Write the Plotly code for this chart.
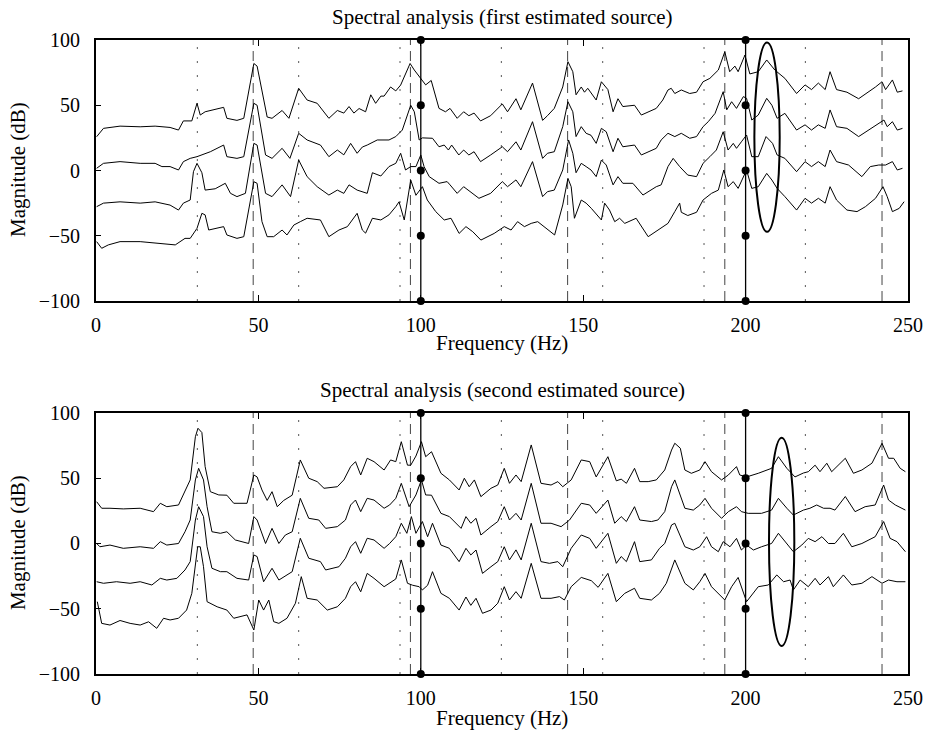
import plotly.graph_objects as go

# ---------------- data ----------------
# Top panel: spectra of the first estimated source (4 traces)
top1_f = [0.2, 2.3, 7.4, 13.6, 18.2, 22.8, 25.4, 26.9, 29.5, 31.1, 32.1, 33.6, 39.3, 40.3, 43.4, 45.5, 48.6, 49.6, 52.7, 54.2, 57.3, 59.4, 62.4, 65, 68.1, 71.7, 74.3, 76.3, 77.9, 79.4, 81, 83, 84.6, 86.1, 87.7, 88.7, 90.7, 92.3, 93.8, 96.7, 98, 100, 101.5, 103.2, 105.6, 107.6, 109, 111.2, 113.2, 114.8, 116.4, 118.4, 121.5, 125.1, 126.7, 129.3, 130.8, 134.4, 137.5, 139, 141.1, 143.7, 145.3, 146.8, 147.8, 149.4, 150.4, 151.4, 154, 155.6, 157.6, 159.2, 160.7, 162.2, 165.8, 167.9, 172.5, 174.5, 176.1, 177.1, 178.2, 180.2, 182.8, 184.9, 186.9, 189, 191.6, 193.6, 195.1, 196.7, 197.7, 199.8, 201.3, 203.9, 206.5, 209, 212.1, 215.7, 218.3, 220.3, 222.4, 224.5, 226, 228, 231.2, 234.8, 237.9, 240, 242, 243.1, 245.2, 246.7, 248.3]
top1_db = [25.9, 32.3, 34, 33.5, 34, 33, 31, 38, 38, 51.5, 42.5, 45, 48.4, 40, 38.4, 40, 82, 80, 41, 40, 46, 40, 63, 54, 51.5, 40, 46, 44, 49, 44, 47.5, 45, 58, 51.5, 57, 57, 64, 61, 65.5, 82, 77, 70, 65.6, 69, 47.6, 45, 47.6, 40, 45, 42, 44, 38, 42, 51, 45, 55, 46.5, 67, 38.4, 42, 47.6, 64, 83.4, 75.7, 58, 64, 60, 63, 54, 68, 62, 45, 55, 49, 50, 42.5, 47.6, 54, 61.7, 63, 59, 61.7, 59, 60, 68, 70.6, 77, 91, 75.7, 80, 75.7, 88.5, 74, 75.7, 84.7, 77, 70.6, 59, 65.6, 62, 67, 62, 75.7, 62, 60, 55, 60, 64, 68, 62, 69.4, 60, 61]

top2_f = [0.2, 2.3, 7.4, 13.6, 18.2, 20.3, 22.8, 25.4, 26.9, 29, 31.1, 35.2, 39.3, 40.3, 43.4, 45.5, 48.6, 49.6, 52.2, 54.2, 57.3, 59.7, 62.4, 65, 69.1, 71.7, 74.3, 76.3, 78.4, 80.4, 82, 83.5, 86.6, 90.2, 92.3, 94.3, 96.9, 98, 99.5, 100.5, 103.6, 105.6, 107.2, 108.5, 109.5, 111.7, 113.2, 114.8, 116.4, 118.4, 121.5, 125.1, 126.7, 129.3, 130.8, 134.4, 137.5, 139, 141.1, 143.7, 145.3, 146.8, 147.8, 149.4, 150.9, 152.4, 154, 155.6, 157.1, 159.2, 160.7, 162.2, 165.8, 167.9, 172.5, 174, 176.1, 178.2, 180.2, 182.8, 184.9, 186.9, 188.5, 190.6, 193.1, 194.2, 195.7, 197.2, 199.3, 200.3, 201.9, 203.9, 206.5, 208.1, 209.7, 212.1, 215.7, 218.3, 220.3, 222.4, 224.5, 226, 228, 231.2, 234.8, 237.9, 240.6, 242.6, 243.6, 245.2, 246.7, 248.3]
top2_db = [1.7, 5.5, 6.8, 5.5, 5.5, 3, 3, 0.4, 6.8, 9.3, 10.6, 14.4, 19.5, 10.6, 9.3, 10.6, 51.5, 50, 11.9, 9.3, 17, 9.3, 28.5, 23.4, 19.5, 10.6, 15.7, 12, 20.8, 13.2, 18, 19.5, 23.4, 23.4, 26, 31, 50, 45, 23.4, 25, 24.7, 18.2, 19.5, 15.7, 19.5, 11.9, 15.7, 11.9, 14.4, 6.8, 11.9, 18.2, 14.4, 22, 15.7, 37.4, 9.3, 13.2, 14.4, 33.6, 52.7, 45, 26, 33.6, 28.5, 27, 20.8, 32.3, 29.7, 14.4, 24.7, 18.2, 19.5, 11.9, 17, 23.4, 28.5, 26, 28.5, 24.7, 26, 33.6, 37.4, 43.8, 60.4, 46.5, 52.7, 47.6, 56.6, 55.3, 38.7, 42.5, 55.3, 50, 40, 43.8, 31, 35, 31, 35, 32.3, 46.4, 33.6, 32.3, 26, 31, 35, 38.7, 33.6, 37.4, 31, 32.3]

top3_f = [0.2, 2.3, 7.4, 13.6, 18.2, 22.8, 25.4, 26.9, 29, 30, 31.1, 32.6, 33.6, 36.7, 39.8, 41.4, 43.4, 46, 48.6, 49.6, 52.2, 54.2, 57.3, 59.9, 62.4, 65, 68.1, 71.7, 74.3, 76.3, 77.9, 80.4, 83.5, 85.1, 87.7, 90.2, 92.3, 93.8, 95.3, 96.9, 98.5, 100, 101, 102.6, 105.6, 108.1, 109, 111.2, 113.2, 115.3, 117.9, 121.5, 125.1, 126.7, 129.3, 130.8, 134.4, 137.5, 139, 141.1, 143.7, 145.5, 146.8, 147.8, 149.4, 150.9, 152.4, 154, 155.6, 157.1, 159.2, 160.7, 162.2, 165.3, 168.4, 172.5, 174, 176.1, 177.7, 179.7, 182.2, 184.9, 186.9, 189, 191, 193.1, 194.6, 196.2, 197.2, 198.7, 200.3, 201.9, 203.9, 206.3, 208.3, 209.7, 212.1, 215.7, 218.3, 220.3, 222.4, 224.5, 226, 228, 231.7, 235.8, 238.4, 241, 243.1, 245.2, 246.7, 248.3]
top3_db = [-27.7, -25, -24, -25, -24, -26.5, -30.3, -25, -22.6, -0.9, 5.5, -1.7, -15, -14, -9.8, -17.5, -20, -17.5, 20.8, 19.5, -17.5, -20, -11, -20, 8, -4.7, -12.4, -18.8, -15, -17.5, -11, -15, -17.5, -1.7, -4.2, 3, 5.5, 13.2, 0.4, 3, 3, 11.9, 3, -4.7, -9.8, -8.5, -11, -17.5, -12.4, -16.2, -21.3, -17.5, -8.5, -12.4, -7.2, -12.4, 6.8, -20, -16.2, -15, 0.4, 23.4, 13.2, -1.7, 5.5, 3, 0.4, -4.7, 8, 4.2, -11, -4.7, -9.8, -9.8, -18.8, -12.4, -11, 3, 9.3, 3, -3.5, -4.7, 5.5, 10.6, 15.7, 29.7, 15.7, 20.8, 17, 22, 27.2, 10.6, 10.6, 26, 20.8, 11.9, 9.3, -0.9, 6.8, 3, 6.8, 3, 15.7, 6.8, 4.2, -4.7, 3, 4.2, 4.2, 6.8, 0.4, 1.7]

top4_f = [0.2, 1.75, 3.8, 7.4, 13.6, 18.7, 24.4, 27.4, 29, 31.1, 32.6, 33.6, 34.7, 39.3, 40.3, 43.4, 45.5, 48.6, 49.6, 51.1, 52.7, 54.7, 57.3, 58.8, 60.9, 62.9, 65, 69.1, 71.7, 74.8, 77.4, 80.4, 82, 83, 85.1, 87.7, 90.2, 92.3, 93.3, 94.9, 96.9, 98.5, 100.5, 102, 104.6, 107.2, 109.3, 111.8, 113.9, 116, 118.5, 122.6, 125.7, 127.8, 129.8, 131.9, 134, 136, 139.1, 141.2, 143.7, 145.3, 146.3, 147.3, 149.4, 150.9, 152.5, 155.6, 156.6, 158.1, 159.7, 161.2, 162.8, 166.3, 170, 173, 176.1, 178.2, 179.7, 180.2, 182.2, 184.9, 186.9, 189.5, 191.6, 193.3, 194.6, 196.2, 197.7, 200.3, 201.9, 203.9, 206.5, 208.1, 209.7, 212.1, 215.7, 218.3, 220.3, 222.4, 224.5, 226, 228, 231.2, 234.3, 236.9, 240, 242.3, 243.6, 245.2, 247.3, 248.8]
top4_db = [-54.5, -59.6, -57, -54.5, -54.5, -55.8, -57, -52, -52, -44.3, -32.8, -34, -45.6, -43, -49.4, -52, -50.7, -8.6, -9.8, -39.2, -50.7, -50.7, -45.6, -49.4, -41.8, -39.2, -36.6, -37.9, -50.7, -45.6, -43, -32.8, -45.6, -48, -36.6, -37.9, -34, -27.7, -24, -37.9, -7.3, -19, -12.4, -22.6, -31.5, -37.9, -36.6, -48.2, -43, -46.9, -53.3, -48.2, -43, -45.6, -39.2, -43, -40.5, -39.2, -45.6, -49.4, -26.4, -6, -12.4, -36.6, -22.6, -25, -29, -37.9, -25, -30.3, -39.2, -36.6, -40.5, -36.6, -50.7, -45.6, -40.5, -31.5, -25, -32, -34.5, -32, -22.6, -17.5, -15, 0.4, -12.4, -8.5, -13.7, 0.4, -13.7, -12.4, -2.2, -7.3, -13.7, -20, -30.3, -21.3, -25, -21.3, -25, -12.4, -22.6, -30.3, -31.5, -27.7, -21.3, -12.4, -20, -31.5, -29, -23.9]

# Bottom panel: spectra of the second estimated source (4 traces)
bot1_f = [0.2, 1.75, 4.3, 8.4, 13.6, 17.7, 19.8, 21.8, 25.4, 26.9, 29, 30.6, 31.4, 32.6, 33.6, 35.2, 37.8, 40.3, 42.4, 46.5, 48.6, 49.6, 51.1, 52.7, 54.2, 55.8, 57.8, 60.4, 62.9, 65.5, 68.1, 70.2, 74.3, 76.3, 78.4, 79.9, 81.5, 83.5, 85.6, 88.7, 90.7, 92.3, 94, 95.9, 96.9, 98.5, 100.2, 101.5, 103.3, 106.2, 108.8, 111.8, 113.4, 114.9, 116.5, 118.5, 121.6, 123.7, 125.7, 127.3, 129.3, 130.9, 134, 137, 140.1, 142.2, 143.7, 146.3, 149.4, 152, 154, 157.6, 160.2, 161.7, 163.3, 165.8, 167.4, 170, 172.5, 175.1, 177.2, 178.2, 179.9, 181.3, 183.3, 185.9, 187.5, 189.5, 192.6, 194.7, 197.2, 198.2, 200.3, 203.9, 208, 210.1, 212.7, 215.2, 217.8, 219.3, 221.4, 222.9, 225, 226.5, 230.7, 233.2, 235.8, 238.9, 242, 244, 245.6, 247.6, 249.2]
bot1_db = [32, 27, 27, 26.5, 27, 24.4, 30.8, 28.2, 29.5, 37.2, 48.7, 81.8, 88.3, 85, 58.9, 39.7, 37.2, 37, 30.8, 30.8, 52.5, 51, 41, 33, 39.7, 28.2, 33, 37, 64, 50, 47.4, 42.3, 43.5, 48.7, 58.9, 62.7, 52.5, 65.3, 62.7, 56.3, 64, 62.7, 78, 60, 60, 67, 78, 66.5, 70.3, 53.8, 48.7, 41, 50, 43.5, 48.7, 35.9, 42.3, 44.8, 57.6, 46.1, 52.5, 47.4, 75.5, 46.1, 44.8, 47.4, 43.5, 48.7, 64, 62.7, 51, 66.5, 48, 49.3, 46.1, 57.6, 47.4, 47.4, 48.7, 56.3, 71.6, 76.8, 73, 56.3, 53.8, 56.3, 62.7, 55, 48.7, 52.5, 58.9, 52.5, 51, 53.8, 57.6, 66.5, 57.6, 51, 54, 55, 60, 55, 61.5, 55, 65.3, 53.8, 56.3, 61.5, 76.8, 65.3, 65.3, 57.6, 55]

bot2_f = [0.2, 1.2, 4.3, 8.4, 13.6, 17.7, 19.8, 21.8, 25.4, 27.4, 29, 30.6, 31.6, 33.1, 34.2, 35.7, 38.3, 40.3, 42.9, 47, 48.6, 49.6, 52.2, 54.2, 56.3, 58.3, 60.4, 62.9, 65.5, 68.6, 70.7, 74.3, 76.8, 78.4, 79.9, 81.5, 83.5, 85.6, 88.7, 90.4, 92.3, 94, 96.4, 98.5, 100.2, 101.5, 103.3, 106.2, 108.8, 112.4, 113.9, 115.4, 117, 118.5, 121.6, 123.7, 125.7, 127.3, 129.3, 130.9, 134, 137, 140.1, 143.2, 145.8, 149.4, 152, 154, 157.6, 159.7, 161.7, 163.3, 165.8, 167.4, 171, 173, 175.1, 177.2, 178.2, 181.3, 183.9, 185.9, 187.5, 189.5, 192.6, 194.7, 197.2, 198.7, 200.8, 204.9, 208, 210.1, 212.7, 214.7, 217.8, 219.8, 221.9, 224, 226, 227.5, 230.7, 233.7, 236.8, 239.9, 242.5, 244, 246.1, 249.2]
bot2_db = [0, -2.5, -1.2, -3.7, -2.5, -3.7, 1.4, -1.2, 0, 9, 18, 48.7, 57.6, 48.7, 28.2, 9, 7.8, 9, 2.7, 0, 20.6, 18, 0, 11.6, 0, 6.5, 9, 34.6, 19.3, 18, 11.6, 12.9, 18, 29.5, 33.3, 24.4, 34.6, 33.3, 27, 29.5, 34.6, 46.1, 28.2, 37.2, 48.7, 37.2, 37, 23.1, 20.6, 11.6, 20.6, 15.5, 19.3, 6.5, 12.9, 16.8, 28.2, 18, 23.1, 18, 46.1, 15.5, 15.5, 12.9, 18, 30.8, 29.5, 23.1, 33.3, 15.5, 20.6, 16.8, 28.2, 18, 16.8, 18, 24.4, 43.5, 48.7, 27, 25.6, 29.5, 34.6, 27, 19.3, 24.4, 28.2, 24.4, 23.1, 23.1, 25.6, 34.6, 27, 21.8, 25.6, 27, 29.5, 27, 27, 25.6, 36, 24.4, 28.2, 29.5, 44.8, 33.3, 29.5, 25.6]

bot3_f = [0.2, 2.3, 6.3, 10.5, 13.6, 17.2, 19.8, 21.8, 24.9, 27.4, 29, 30.6, 31.6, 33.1, 34.2, 35.7, 38.3, 40.3, 43.4, 47, 48.6, 49.6, 51.6, 54.2, 56.3, 58.8, 60.4, 62.9, 65.5, 69.1, 70.7, 74.8, 76.8, 78.4, 79.9, 81.5, 83.5, 85.6, 88.7, 90.4, 92.3, 94, 95.7, 97.1, 98.5, 100.5, 102.1, 103.6, 106.2, 108.8, 111.8, 113.9, 115.4, 117, 119, 121.6, 123.7, 125.7, 127.3, 129.3, 130.9, 134, 137, 139.6, 142.2, 143.7, 146.3, 149.4, 152, 154, 157.6, 160.2, 161.7, 163.3, 165.8, 167.4, 171, 173.5, 175.1, 177.2, 178.2, 181.3, 183.9, 185.9, 188, 189.5, 191.6, 193.1, 195.2, 197.2, 198.7, 200.3, 202.4, 204.9, 208, 210.1, 212.7, 214.7, 217.3, 219.3, 221.4, 223.5, 225.5, 227.5, 230.1, 232.7, 235.8, 239.9, 242.5, 244.5, 246.6, 249.2]
bot3_db = [-29.3, -30.5, -29.3, -30.5, -29.3, -31.8, -26.7, -28, -26.7, -20.3, -13.9, 18, 28.2, 20.6, -2.5, -19, -21.6, -21.6, -26.7, -28, -8.8, -10, -29.3, -19, -28, -24.1, -21.6, 4, -11.3, -13.9, -20.3, -17.8, -11.3, -2.5, 1.4, -7.5, 4, 2.7, -3.7, 0, 5.2, 15.5, 7.8, 20.6, 7.8, 16.8, 5.2, 15.5, -1.2, -3.7, -13.9, -3.7, -8.8, -5, -22.9, -17.8, -13.9, -2.5, -12.6, -4.9, -12.6, 15.5, -13.9, -15.2, -13.9, -17.8, -3.7, 6.5, 3.9, -3.7, 7.8, -15.2, -10, -13.9, 1.4, -13.9, -12.6, -3.7, 0, 14.2, 15.5, -2.5, -5, -2.5, 5.2, -2.5, -6.3, 1.4, -2.5, 3.9, -5, -1.2, -5, -2.5, 0, 7.8, 0, -6.3, -1.2, 3.9, 1.4, 5.2, 0, 0, 7.8, -2.5, 0, 5.2, 16.8, 3.9, 1.4, -6.3]

bot4_f = [0.4, 1.75, 4.3, 7.4, 10.5, 13.6, 16.2, 18.7, 20.8, 22.8, 25.4, 27.9, 29.5, 31.3, 32.1, 33.1, 34.2, 37.3, 40.3, 42.4, 46.5, 48.6, 50.1, 51.6, 53.2, 54.7, 56.3, 58.8, 61.4, 63.2, 65, 68.1, 71.2, 74.3, 76.8, 78.4, 79.9, 81.5, 83.5, 85.6, 88.7, 90.4, 92.3, 94, 95.9, 97.5, 99.5, 100.5, 102.1, 103.6, 106.2, 108.8, 111.8, 113.9, 115.4, 117, 119, 121.6, 123.7, 125.7, 127.3, 129.3, 130.9, 134, 137, 140.1, 142.7, 144.2, 146.3, 149.4, 152.5, 154.6, 157.6, 160.2, 162.8, 165.8, 167.4, 171, 173.5, 175.6, 178.2, 181.3, 183.9, 185.9, 187.5, 189.5, 193.6, 195.7, 197.7, 200.3, 203.9, 207, 209.6, 211.7, 213.7, 214.7, 216.8, 219.3, 221.4, 222.9, 225.5, 227, 230.1, 232.7, 235.8, 238.9, 242, 244, 246.6, 249.2]
bot4_db = [-44.6, -61.2, -62.5, -59, -61.2, -62.5, -60, -65, -57.3, -58.6, -57.3, -51, -38.2, -2.5, -2.5, -17.8, -44.6, -48.5, -51, -57.3, -54.7, -66.3, -43.3, -51, -43.3, -59.9, -61.2, -57.3, -45.8, -25.4, -42, -43.3, -51, -48.5, -42, -33.1, -29.3, -37, -22.9, -26.7, -33.1, -30.5, -27.2, -12.6, -30.5, -32, -33.1, -35.6, -32, -21.6, -38.2, -42, -51, -41, -47.4, -42, -53.5, -51, -45.8, -33.1, -43.3, -36.9, -42, -15.2, -42, -42, -40.7, -43.3, -33.1, -26, -28.5, -33.6, -22.9, -44.6, -38.2, -34.3, -42, -43.3, -38.2, -30.5, -12.6, -30.5, -35.6, -29.3, -22.9, -33.1, -43.3, -33.1, -26, -44.6, -33.1, -31.8, -24.1, -29.3, -28, -35.6, -28, -33.1, -26.7, -31.8, -25.4, -33.1, -24.1, -31.8, -30.5, -25.4, -30.5, -28, -29.3, -29.3]

# reference frequencies (vertical guide lines)
dotted_freqs = [31.2, 62.4, 93.6, 124.8, 156.0, 187.2, 218.4]
dashed_freqs = [48.4, 96.8, 145.2, 193.6, 242.0]
solid_freqs = [100, 200]
dot_levels = [100, 50, 0, -50, -100]

# highlighted regions (ellipses): centre freq, half width (Hz), centre dB, half height (dB)
ellipse_top = [206.6, 3.9, 25.5, 72.5]
ellipse_bot = [211.1, 3.9, 1.3, 79.8]

titles = ["Spectral analysis (first estimated source)",
          "Spectral analysis (second estimated source)"]
x_title = "Frequency (Hz)"
y_title = "Magnitude (dB)"
x_ticks = [0, 50, 100, 150, 200, 250]
y_ticks = [-100, -50, 0, 50, 100]

# ---------------- figure ----------------
FONT = "Liberation Serif, Times New Roman, serif"
fig = go.Figure()

panels = [
    ("x", "y", [(top1_f, top1_db), (top2_f, top2_db), (top3_f, top3_db), (top4_f, top4_db)], ellipse_top),
    ("x2", "y2", [(bot1_f, bot1_db), (bot2_f, bot2_db), (bot3_f, bot3_db), (bot4_f, bot4_db)], ellipse_bot),
]

shapes = []
for xa, ya, traces, ell in panels:
    xref, yref = xa, ya
    for f in dotted_freqs:
        shapes.append(dict(type="line", xref=xref, yref=yref, x0=f, x1=f, y0=-100, y1=100,
                           line=dict(color="#555", width=1, dash="2px,12px"), layer="below"))
    for f in dashed_freqs:
        shapes.append(dict(type="line", xref=xref, yref=yref, x0=f, x1=f, y0=-100, y1=100,
                           line=dict(color="#444", width=1, dash="10px,6px"), layer="below"))
    for f in solid_freqs:
        shapes.append(dict(type="line", xref=xref, yref=yref, x0=f, x1=f, y0=-100, y1=100,
                           line=dict(color="black", width=1.3), layer="below"))
    for fx, fy in traces:
        fig.add_trace(go.Scatter(x=fx, y=fy, mode="lines", xaxis=xa, yaxis=ya,
                                 line=dict(color="black", width=1), showlegend=False,
                                 hoverinfo="skip"))
    mx, my = [], []
    for f in solid_freqs:
        for lv in dot_levels:
            mx.append(f)
            my.append(lv)
    fig.add_trace(go.Scatter(x=mx, y=my, mode="markers", xaxis=xa, yaxis=ya,
                             marker=dict(color="black", size=8), cliponaxis=False,
                             showlegend=False, hoverinfo="skip"))
    fc, hw, c, hh = ell
    shapes.append(dict(type="circle", xref=xref, yref=yref, x0=fc - hw, x1=fc + hw,
                       y0=c - hh, y1=c + hh, line=dict(color="black", width=2)))

axis_common = dict(range=[0, 250], tickvals=x_ticks, ticks="inside", ticklen=6,
                   showline=True, linewidth=2, linecolor="black", mirror="ticks",
                   showgrid=False, zeroline=False, tickcolor="black", automargin=False,
                   tickfont=dict(family=FONT, size=20, color="black"),
                   ticklabelstandoff=5)
yaxis_common = dict(range=[-100, 100], tickvals=y_ticks, ticks="inside", ticklen=5,
                    showline=True, linewidth=2, linecolor="black", mirror=True,
                    showgrid=False, zeroline=False, tickcolor="black", automargin=False,
                    tickfont=dict(family=FONT, size=20, color="black"),
                    ticklabelstandoff=10)

top_dom = [0.5883, 1.0]
bot_dom = [0.0, 0.4117]

fig.update_layout(
    width=930, height=737,
    margin=dict(l=96, r=22, t=40, b=63),
    paper_bgcolor="white", plot_bgcolor="white",
    xaxis=dict(axis_common, domain=[0, 1], anchor="y"),
    yaxis=dict(yaxis_common, domain=top_dom, anchor="x"),
    xaxis2=dict(axis_common, domain=[0, 1], anchor="y2"),
    yaxis2=dict(yaxis_common, domain=bot_dom, anchor="x2"),
    shapes=shapes,
    font=dict(family=FONT, color="black"),
)

ann = []
ann.append(dict(text=titles[0], x=0.5, y=1.0363, xref="paper", yref="paper",
                showarrow=False, font=dict(family=FONT, size=21), yanchor="middle"))
ann.append(dict(text=titles[1], x=0.5, y=0.448, xref="paper", yref="paper",
                showarrow=False, font=dict(family=FONT, size=21), yanchor="middle"))
for yy in [0.522, -0.0694]:
    ann.append(dict(text=x_title, x=0.5, y=yy, xref="paper", yref="paper",
                    showarrow=False, font=dict(family=FONT, size=21), yanchor="middle"))
for yy in [0.795, 0.2066]:
    ann.append(dict(text=y_title, x=-0.096, y=yy, xref="paper", yref="paper",
                    showarrow=False, textangle=-90, font=dict(family=FONT, size=21),
                    xanchor="center", yanchor="middle"))
fig.update_layout(annotations=ann)

fig.write_html("out.html", config={"displayModeBar": False},
               post_script="document.body.style.margin='0px';document.body.style.padding='0px';")
